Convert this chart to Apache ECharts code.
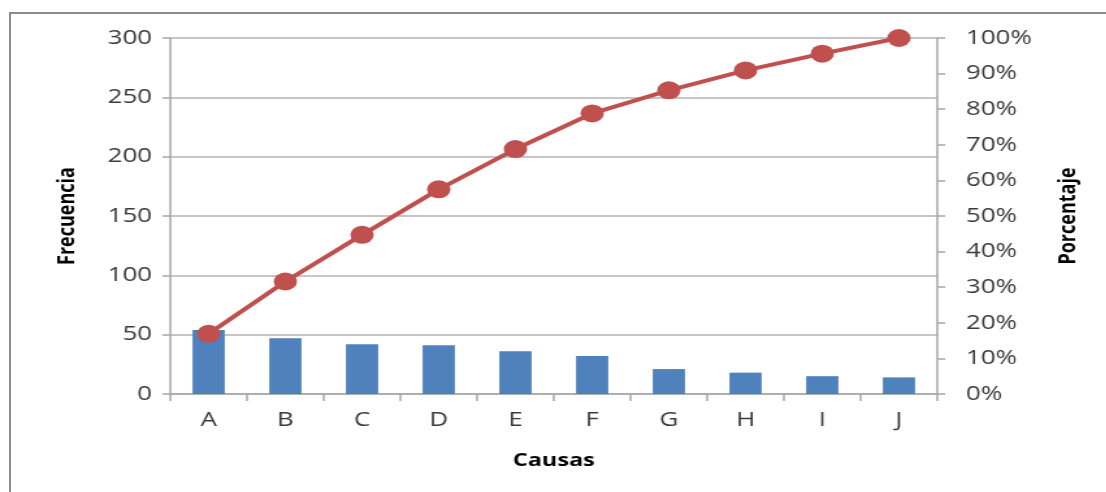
<!DOCTYPE html>
<html>
<head>
<meta charset="utf-8">
<script src="https://cdn.jsdelivr.net/npm/echarts@6/dist/echarts.min.js"></script>
<style>
  html, body { margin: 0; padding: 0; background: #fff; overflow: hidden; }
  #frame {
    position: absolute; left: 9px; top: 12px; width: 1200px; height: 600px;
    border-left: 2px solid #8c8c8c; border-top: 2px solid #8c8c8c;
  }
  /* the chart is drawn narrower and widened with a horizontal stretch */
  #chart {
    position: absolute; left: 0; top: 0; width: 851px; height: 492px;
    transform: scaleX(1.3); transform-origin: 0 0;
  }
</style>
</head>
<body>
<div id="frame"></div>
<div id="chart"></div>
<script>
const categories = ['A', 'B', 'C', 'D', 'E', 'F', 'G', 'H', 'I', 'J'];
const frecuencia = [54, 47, 42, 41, 36, 32, 21, 18, 15, 14];
const porcentajeAcumulado = [16.9, 31.6, 44.7, 57.5, 68.8, 78.8, 85.3, 90.9, 95.6, 100];

const FONT = '"Open Sans", "DejaVu Sans", sans-serif';
const tickLabel = { color: '#3a3a3a', fontSize: 20, fontFamily: FONT };
const axisTitle = { color: '#000', fontSize: 18, fontWeight: 'bold', fontFamily: FONT };
const axisGray = '#a6a6a6';

const chart = echarts.init(document.getElementById('chart'), null, { renderer: 'canvas' });
chart.setOption({
  animation: false,
  backgroundColor: 'transparent',
  grid: { left: 131, width: 590, top: 38, height: 356, containLabel: false },
  xAxis: {
    type: 'category',
    data: categories,
    name: 'Causas',
    nameLocation: 'middle',
    nameGap: 58,
    nameTextStyle: axisTitle,
    axisLine: { lineStyle: { color: axisGray, width: 1.5 } },
    axisTick: { show: true, alignWithLabel: false, length: 7, lineStyle: { color: axisGray, width: 1.5 } },
    axisLabel: Object.assign({ margin: 16 }, tickLabel)
  },
  yAxis: [
    {
      type: 'value',
      min: 0, max: 300, interval: 50,
      name: 'Frecuencia',
      nameLocation: 'middle',
      nameRotate: 90,
      nameGap: 70,
      nameTextStyle: axisTitle,
      axisLine: { show: true, lineStyle: { color: axisGray, width: 1.5 } },
      axisTick: { show: true, length: 6, lineStyle: { color: axisGray, width: 1.5 } },
      axisLabel: Object.assign({ margin: 14 }, tickLabel),
      splitLine: { show: true, lineStyle: { color: '#b3b3b3', width: 1.5 } }
    },
    {
      type: 'value',
      min: 0, max: 100, interval: 10,
      position: 'right',
      name: 'Porcentaje',
      nameLocation: 'middle',
      nameRotate: 90,
      nameGap: 92,
      nameTextStyle: axisTitle,
      axisLine: { show: true, lineStyle: { color: axisGray, width: 1.5 } },
      axisTick: { show: true, length: 6, lineStyle: { color: axisGray, width: 1.5 } },
      axisLabel: Object.assign({ margin: 22, formatter: '{value}%' }, tickLabel),
      splitLine: { show: false }
    }
  ],
  series: [
    {
      name: 'Frecuencia',
      type: 'bar',
      yAxisIndex: 0,
      data: frecuencia,
      barWidth: '42%',
      itemStyle: { color: '#4f81bd' }
    },
    {
      name: 'Porcentaje',
      type: 'line',
      yAxisIndex: 1,
      data: porcentajeAcumulado,
      symbol: 'circle',
      symbolSize: 18,
      lineStyle: { color: '#c0504d', width: 4 },
      itemStyle: { color: '#c0504d' },
      z: 5
    }
  ]
});
</script>
</body>
</html>
